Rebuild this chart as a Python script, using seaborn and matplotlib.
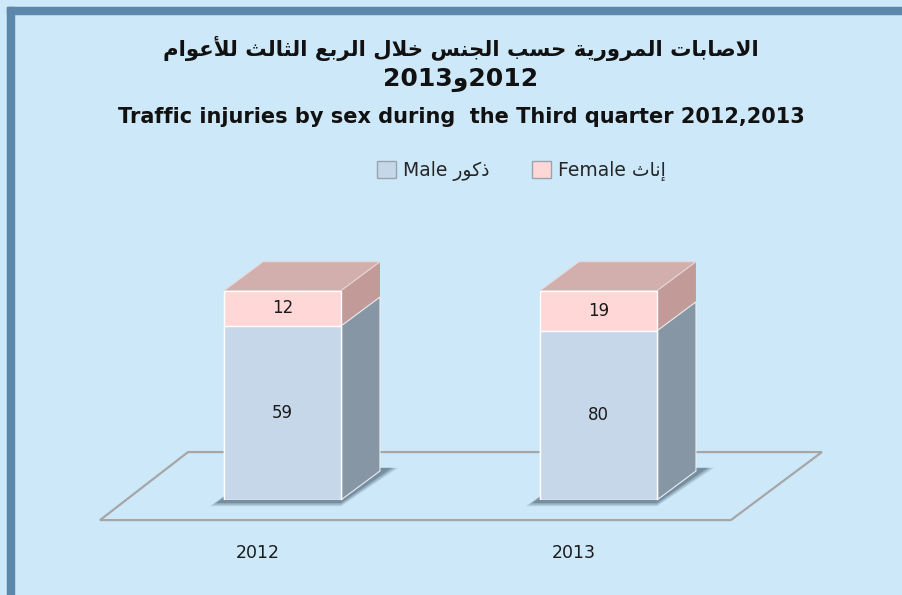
import matplotlib
matplotlib.use("Agg")
import numpy as np
import pandas as pd
import seaborn as sns
import matplotlib.pyplot as plt
from matplotlib.patches import Polygon, Rectangle, Patch
import matplotlib.transforms as mtransforms

# ---------------- data ----------------
years = ["2012", "2013"]
male = [59, 80]
female = [12, 19]

title_ar = "الاصابات المرورية حسب الجنس خلال الربع الثالث للأعوام"
title_years = ["2013", "و", "2012"]          # visual left-to-right order
title_en = "Traffic injuries by sex during  the Third quarter 2012,2013"
legend_male = ("Male", "ذكور")
legend_female = ("Female", "إناث")

# ---------------- minimal Arabic shaping (presentation forms + RTL) ----------------
FORMS = {
    'ا': ('\uFE8D', '\uFE8E', None, None),
    'أ': ('\uFE83', '\uFE84', None, None),
    'إ': ('\uFE87', '\uFE88', None, None),
    'ب': ('\uFE8F', '\uFE90', '\uFE91', '\uFE92'),
    'ة': ('\uFE93', '\uFE94', None, None),
    'ت': ('\uFE95', '\uFE96', '\uFE97', '\uFE98'),
    'ث': ('\uFE99', '\uFE9A', '\uFE9B', '\uFE9C'),
    'ج': ('\uFE9D', '\uFE9E', '\uFE9F', '\uFEA0'),
    'ح': ('\uFEA1', '\uFEA2', '\uFEA3', '\uFEA4'),
    'خ': ('\uFEA5', '\uFEA6', '\uFEA7', '\uFEA8'),
    'ذ': ('\uFEAB', '\uFEAC', None, None),
    'ر': ('\uFEAD', '\uFEAE', None, None),
    'س': ('\uFEB1', '\uFEB2', '\uFEB3', '\uFEB4'),
    'ص': ('\uFEB9', '\uFEBA', '\uFEBB', '\uFEBC'),
    'ع': ('\uFEC9', '\uFECA', '\uFECB', '\uFECC'),
    'ك': ('\uFED9', '\uFEDA', '\uFEDB', '\uFEDC'),
    'ل': ('\uFEDD', '\uFEDE', '\uFEDF', '\uFEE0'),
    'م': ('\uFEE1', '\uFEE2', '\uFEE3', '\uFEE4'),
    'ن': ('\uFEE5', '\uFEE6', '\uFEE7', '\uFEE8'),
    'و': ('\uFEED', '\uFEEE', None, None),
    'ي': ('\uFEF1', '\uFEF2', '\uFEF3', '\uFEF4'),
    'لا': ('\uFEFB', '\uFEFC', None, None),
    'لأ': ('\uFEF7', '\uFEF8', None, None),
    'لإ': ('\uFEF9', '\uFEFA', None, None),
}


def shape(text):
    units = []
    i = 0
    while i < len(text):
        if text[i] == 'ل' and i + 1 < len(text) and text[i + 1] in 'اأإ':
            units.append(text[i:i + 2])
            i += 2
        else:
            units.append(text[i])
            i += 1
    out = []
    n = len(units)
    for k, u in enumerate(units):
        if u not in FORMS:
            out.append(u)
            continue
        f = FORMS[u]
        prev_j = k > 0 and units[k - 1] in FORMS and FORMS[units[k - 1]][2] is not None
        next_j = (k < n - 1 and units[k + 1] in FORMS and f[2] is not None)
        if prev_j and next_j:
            out.append(f[3])
        elif prev_j:
            out.append(f[1])
        elif next_j:
            out.append(f[2])
        else:
            out.append(f[0])
    return "".join(reversed(out))


# ---------------- style ----------------
BG = "#CDE8F8"
BORDER = "#5A87AA"
M_FRONT = "#C5D7E9"
M_SIDE = "#8796A5"
F_FRONT = "#FFD7D7"
F_SIDE = "#C29A98"
F_TOP = "#D2AEAC"
FLOOR = "#A6A6A6"
TXT = "#1A1A1A"

sns.set_theme(style="white")
plt.rcParams['font.family'] = ['DejaVu Sans']

W, H = 902, 595
fig = plt.figure(figsize=(W / 100, H / 100), dpi=100)
fig.patch.set_facecolor(BG)


def fx(px):
    return px / W


def fy(py):
    return 1 - py / H


# frame strips (top and left)
fig.patches.append(Rectangle((fx(7), fy(14)), 1 - fx(7), 7 / H,
                             transform=fig.transFigure, color=BORDER, zorder=0))
fig.patches.append(Rectangle((fx(7), 0), 7 / W, fy(7),
                             transform=fig.transFigure, color=BORDER, zorder=0))

# axes placement: category spacing 316 px, 100% = 209 px
XSCALE = 316.0
YSCALE = 209.3 / 100.0
ax = fig.add_axes([fx(92.9), fy(500), 695.2 / W, 209.3 / H])
ax.set_facecolor("none")

df = pd.DataFrame({"year": years, "male": male, "female": female})
df["total"] = df["male"] + df["female"]
df["male_pct"] = df["male"] / df["total"] * 100
df["all_pct"] = 100.0

BW = 0.37
sns.barplot(data=df, x="year", y="all_pct", color=F_FRONT, saturation=1, width=BW,
            edgecolor="white", linewidth=1.0, ax=ax, zorder=4, errorbar=None)
sns.barplot(data=df, x="year", y="male_pct", color=M_FRONT, saturation=1, width=BW,
            edgecolor="white", linewidth=1.0, ax=ax, zorder=5, errorbar=None)

ax.set_xlim(-0.6, 1.6)
ax.set_ylim(0, 100)
for s in ax.spines.values():
    s.set_visible(False)
ax.set_yticks([])
ax.set_xlabel("")
ax.set_ylabel("")

DX = 39 / XSCALE
DY = 29 / YSCALE

# floor plane
floor = Polygon([(-0.5775, -9.6), (1.419, -9.6), (1.707, 22.9), (-0.299, 22.9)],
                closed=True, facecolor="none", edgecolor=FLOOR, lw=1.6,
                zorder=1, clip_on=False)
ax.add_patch(floor)

fem_bars = ax.containers[0]
male_bars = ax.containers[1]
for pf, pm in zip(fem_bars, male_bars):
    x0 = pf.get_x()
    w = pf.get_width()
    top = pf.get_height()
    mh = pm.get_height()
    # soft shadow
    for grow, alpha in [(6, 0.25), (3, 0.35), (0, 0.6)]:
        g = grow / XSCALE
        sh = Polygon([(x0 - 8 / XSCALE - g, -1.5 - grow / YSCALE / 2), (x0 + w, -1.5 - grow / YSCALE / 2),
                      (x0 + w + DX + 12 / XSCALE + g, DY + 1.5), (x0 + DX, DY + 1.5)],
                     closed=True, facecolor="#62798A", edgecolor="none", alpha=alpha,
                     zorder=2, clip_on=False)
        ax.add_patch(sh)
    # side faces
    ax.add_patch(Polygon([(x0 + w, 0), (x0 + w + DX, DY), (x0 + w + DX, top + DY), (x0 + w, top)],
                         closed=True, facecolor=F_SIDE, edgecolor="none", zorder=3, clip_on=False))
    ax.add_patch(Polygon([(x0 + w, 0), (x0 + w + DX, DY), (x0 + w + DX, mh + DY), (x0 + w, mh)],
                         closed=True, facecolor=M_SIDE, edgecolor="#E8EEF4", lw=0.8,
                         zorder=3, clip_on=False))
    # top face
    ax.add_patch(Polygon([(x0, top), (x0 + DX, top + DY), (x0 + w + DX, top + DY), (x0 + w, top)],
                         closed=True, facecolor=F_TOP, edgecolor="#E8D8D8", lw=0.8,
                         zorder=3, clip_on=False))

# value labels
for i, row in df.iterrows():
    ax.text(i, row["male_pct"] / 2, f"{row['male']}", ha="center", va="center",
            fontsize=12, color=TXT, zorder=6)
    ax.text(i, (row["male_pct"] + 100) / 2, f"{row['female']}", ha="center", va="center",
            fontsize=12, color=TXT, zorder=6)

# category labels
ax.set_xticks(range(len(years)))
ax.set_xticklabels(years, fontsize=12.5, color=TXT)
ax.tick_params(axis="x", length=0, pad=31.5)
shift = mtransforms.ScaledTranslation(-25 / 100, 0, fig.dpi_scale_trans)
for lab in ax.get_xticklabels():
    lab.set_transform(lab.get_transform() + shift)

# titles
fig.text(fx(461), fy(48), shape(title_ar), ha="center", va="center",
         fontsize=15.3, fontweight="bold", color="#111111")
fig.text(fx(461), fy(80), title_years[0] + shape(title_years[1]) + title_years[2],
         ha="center", va="center", fontsize=18, fontweight="bold", color="#111111")
fig.text(fx(461), fy(117), title_en, ha="center", va="center",
         fontsize=15, fontweight="bold", color="#111111")

# legend
handles = [Patch(facecolor=M_FRONT, edgecolor="#9AA4AE", lw=1.0),
           Patch(facecolor=F_FRONT, edgecolor="#9AA4AE", lw=1.0)]
labels = [legend_male[0] + " " + shape(legend_male[1]),
          legend_female[0] + " " + shape(legend_female[1])]
fig.legend(handles, labels, loc="center", bbox_to_anchor=(fx(521.5), fy(171)), ncol=2,
           frameon=False, fontsize=13.5, handlelength=1.0, handleheight=1.0,
           handletextpad=0.35, columnspacing=2.3)

fig.savefig("out.png", dpi=100, facecolor=BG)
